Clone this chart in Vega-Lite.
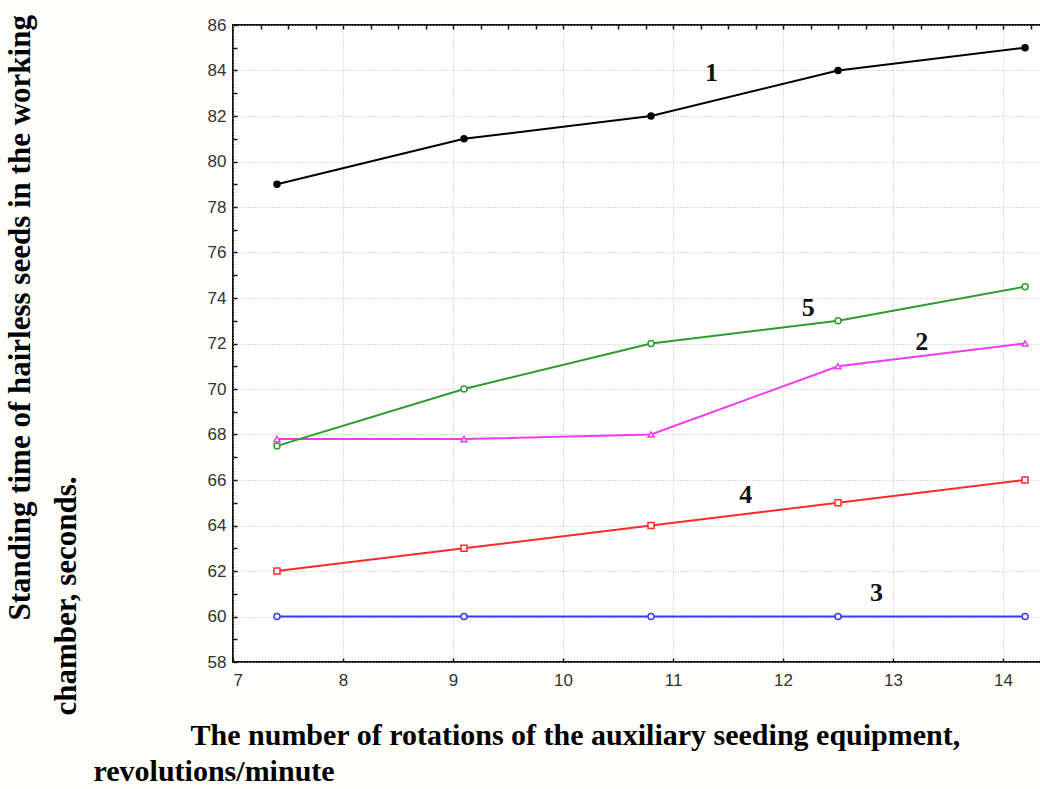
{
  "$schema": "https://vega.github.io/schema/vega-lite/v6.json",
  "width": 808,
  "height": 637,
  "autosize": {"type": "none"},
  "padding": {"left": 233, "top": 25, "right": 0, "bottom": 127},
  "background": "#fefefa",
  "config": {
    "view": {"stroke": "#111", "strokeWidth": 2, "fill": "white"},
    "axis": {"labelFont": "Liberation Sans", "labelFontSize": 17, "labelColor": "#333", "titleColor": "#000"}
  },
  "datasets": {
    "series": [
      {"rpm": 7.4, "time": 79, "curve": "1"},
      {"rpm": 9.1, "time": 81, "curve": "1"},
      {"rpm": 10.8, "time": 82, "curve": "1"},
      {"rpm": 12.5, "time": 84, "curve": "1"},
      {"rpm": 14.2, "time": 85, "curve": "1"},
      {"rpm": 7.4, "time": 67.8, "curve": "2"},
      {"rpm": 9.1, "time": 67.8, "curve": "2"},
      {"rpm": 10.8, "time": 68, "curve": "2"},
      {"rpm": 12.5, "time": 71, "curve": "2"},
      {"rpm": 14.2, "time": 72, "curve": "2"},
      {"rpm": 7.4, "time": 60, "curve": "3"},
      {"rpm": 9.1, "time": 60, "curve": "3"},
      {"rpm": 10.8, "time": 60, "curve": "3"},
      {"rpm": 12.5, "time": 60, "curve": "3"},
      {"rpm": 14.2, "time": 60, "curve": "3"},
      {"rpm": 7.4, "time": 62, "curve": "4"},
      {"rpm": 9.1, "time": 63, "curve": "4"},
      {"rpm": 10.8, "time": 64, "curve": "4"},
      {"rpm": 12.5, "time": 65, "curve": "4"},
      {"rpm": 14.2, "time": 66, "curve": "4"},
      {"rpm": 7.4, "time": 67.5, "curve": "5"},
      {"rpm": 9.1, "time": 70, "curve": "5"},
      {"rpm": 10.8, "time": 72, "curve": "5"},
      {"rpm": 12.5, "time": 73, "curve": "5"},
      {"rpm": 14.2, "time": 74.5, "curve": "5"}
    ],
    "labels": [
      {"rpm": 11.35, "time": 83.9, "label": "1"},
      {"rpm": 13.26, "time": 72.05, "label": "2"},
      {"rpm": 12.85, "time": 61.05, "label": "3"},
      {"rpm": 11.66, "time": 65.35, "label": "4"},
      {"rpm": 12.23, "time": 73.55, "label": "5"}
    ]
  },
  "resolve": {"axis": {"x": "independent", "y": "independent"}},
  "layer": [
    {
      "data": {"name": "series"},
      "mark": {"type": "line", "strokeWidth": 2},
      "encoding": {
        "x": {
          "field": "rpm", "type": "quantitative",
          "scale": {"domain": [7, 14.345], "nice": false, "zero": false},
          "axis": {
            "orient": "bottom",
            "values": [7, 7.25, 7.5, 7.75, 8, 8.25, 8.5, 8.75, 9, 9.25, 9.5, 9.75, 10, 10.25, 10.5, 10.75, 11, 11.25, 11.5, 11.75, 12, 12.25, 12.5, 12.75, 13, 13.25, 13.5, 13.75, 14, 14.25],
            "format": "d",
            "labelExpr": "datum.value % 1 === 0 ? datum.label : ''",
            "tickSize": -4, "tickColor": "#111", "tickWidth": 1.5,
            "labelPadding": 14,
            "domain": false,
            "grid": true, "gridColor": "#bbbbbb", "gridDash": [1, 2], "gridWidth": 1,
            "gridOpacity": {"condition": {"test": "datum.value % 1 === 0", "value": 1}, "value": 0},
            "title": "The number of rotations of the auxiliary seeding equipment,",
            "titleFont": "Liberation Serif", "titleFontSize": 30, "titleFontWeight": "bold",
            "titleAlign": "left", "titleAnchor": "start", "titleBaseline": "alphabetic",
            "titleX": -43, "titleY": 82
          }
        },
        "y": {
          "field": "time", "type": "quantitative",
          "scale": {"domain": [58, 86], "nice": false, "zero": false},
          "axis": {
            "values": [58, 59, 60, 61, 62, 63, 64, 65, 66, 67, 68, 69, 70, 71, 72, 73, 74, 75, 76, 77, 78, 79, 80, 81, 82, 83, 84, 85, 86],
            "labelExpr": "datum.value % 2 === 0 ? datum.label : ''",
            "tickSize": -4, "tickColor": "#111", "tickWidth": 1.5,
            "labelPadding": 11,
            "domain": false,
            "grid": true, "gridColor": "#bbbbbb", "gridDash": [1, 2], "gridWidth": 1,
            "gridOpacity": {"condition": {"test": "datum.value % 2 === 0", "value": 1}, "value": 0},
            "title": "Standing time of hairless seeds in the working",
            "titleFont": "Liberation Serif", "titleFontSize": 31, "titleFontWeight": "bold",
            "titleAngle": -90, "titleAlign": "left", "titleAnchor": "start", "titleBaseline": "top",
            "titleX": -228, "titleY": 595
          }
        },
        "color": {
          "field": "curve", "type": "nominal",
          "scale": {"domain": ["1", "2", "3", "4", "5"], "range": ["#000000", "#f03cf0", "#3a3aff", "#ff2a2a", "#2f9a2f"]},
          "legend": null
        }
      }
    },
    {
      "data": {"name": "series"},
      "mark": {"type": "point", "strokeWidth": 1.5, "size": 36, "opacity": 1},
      "encoding": {
        "x": {"field": "rpm", "type": "quantitative", "axis": null},
        "y": {"field": "time", "type": "quantitative", "axis": null},
        "color": {"field": "curve", "type": "nominal", "legend": null},
        "shape": {
          "field": "curve", "type": "nominal",
          "scale": {"domain": ["1", "2", "3", "4", "5"], "range": ["circle", "triangle-up", "circle", "square", "circle"]},
          "legend": null
        },
        "fill": {
          "field": "curve", "type": "nominal",
          "scale": {"domain": ["1", "2", "3", "4", "5"], "range": ["#000000", "#ffffff", "#ffffff", "#ffffff", "#ffffff"]},
          "legend": null
        }
      }
    },
    {
      "data": {"name": "labels"},
      "mark": {"type": "text", "font": "Liberation Serif", "fontSize": 26, "fontWeight": "bold", "color": "#111", "baseline": "middle", "align": "center"},
      "encoding": {
        "x": {
          "field": "rpm", "type": "quantitative",
          "axis": {
            "orient": "top",
            "values": [7.25, 7.5, 7.75, 8, 8.25, 8.5, 8.75, 9, 9.25, 9.5, 9.75, 10, 10.25, 10.5, 10.75, 11, 11.25, 11.5, 11.75, 12, 12.25, 12.5, 12.75, 13, 13.25, 13.5, 13.75, 14, 14.25],
            "labels": false, "domain": false, "grid": false,
            "tickSize": -4, "tickColor": "#111", "tickWidth": 1.5,
            "title": "revolutions/minute",
            "titleFont": "Liberation Serif", "titleFontSize": 30, "titleFontWeight": "bold",
            "titleAlign": "left", "titleAnchor": "start", "titleBaseline": "alphabetic", "titleAngle": 0,
            "titleX": -140, "titleY": 755
          }
        },
        "y": {
          "field": "time", "type": "quantitative",
          "axis": {
            "orient": "right",
            "labels": false, "domain": false, "grid": false, "ticks": false,
            "title": "chamber, seconds.",
            "titleFont": "Liberation Serif", "titleFontSize": 31, "titleFontWeight": "bold",
            "titleAngle": -90, "titleAlign": "left", "titleAnchor": "start", "titleBaseline": "top",
            "titleX": -990, "titleY": 690
          }
        },
        "text": {"field": "label", "type": "nominal"}
      }
    }
  ]
}
